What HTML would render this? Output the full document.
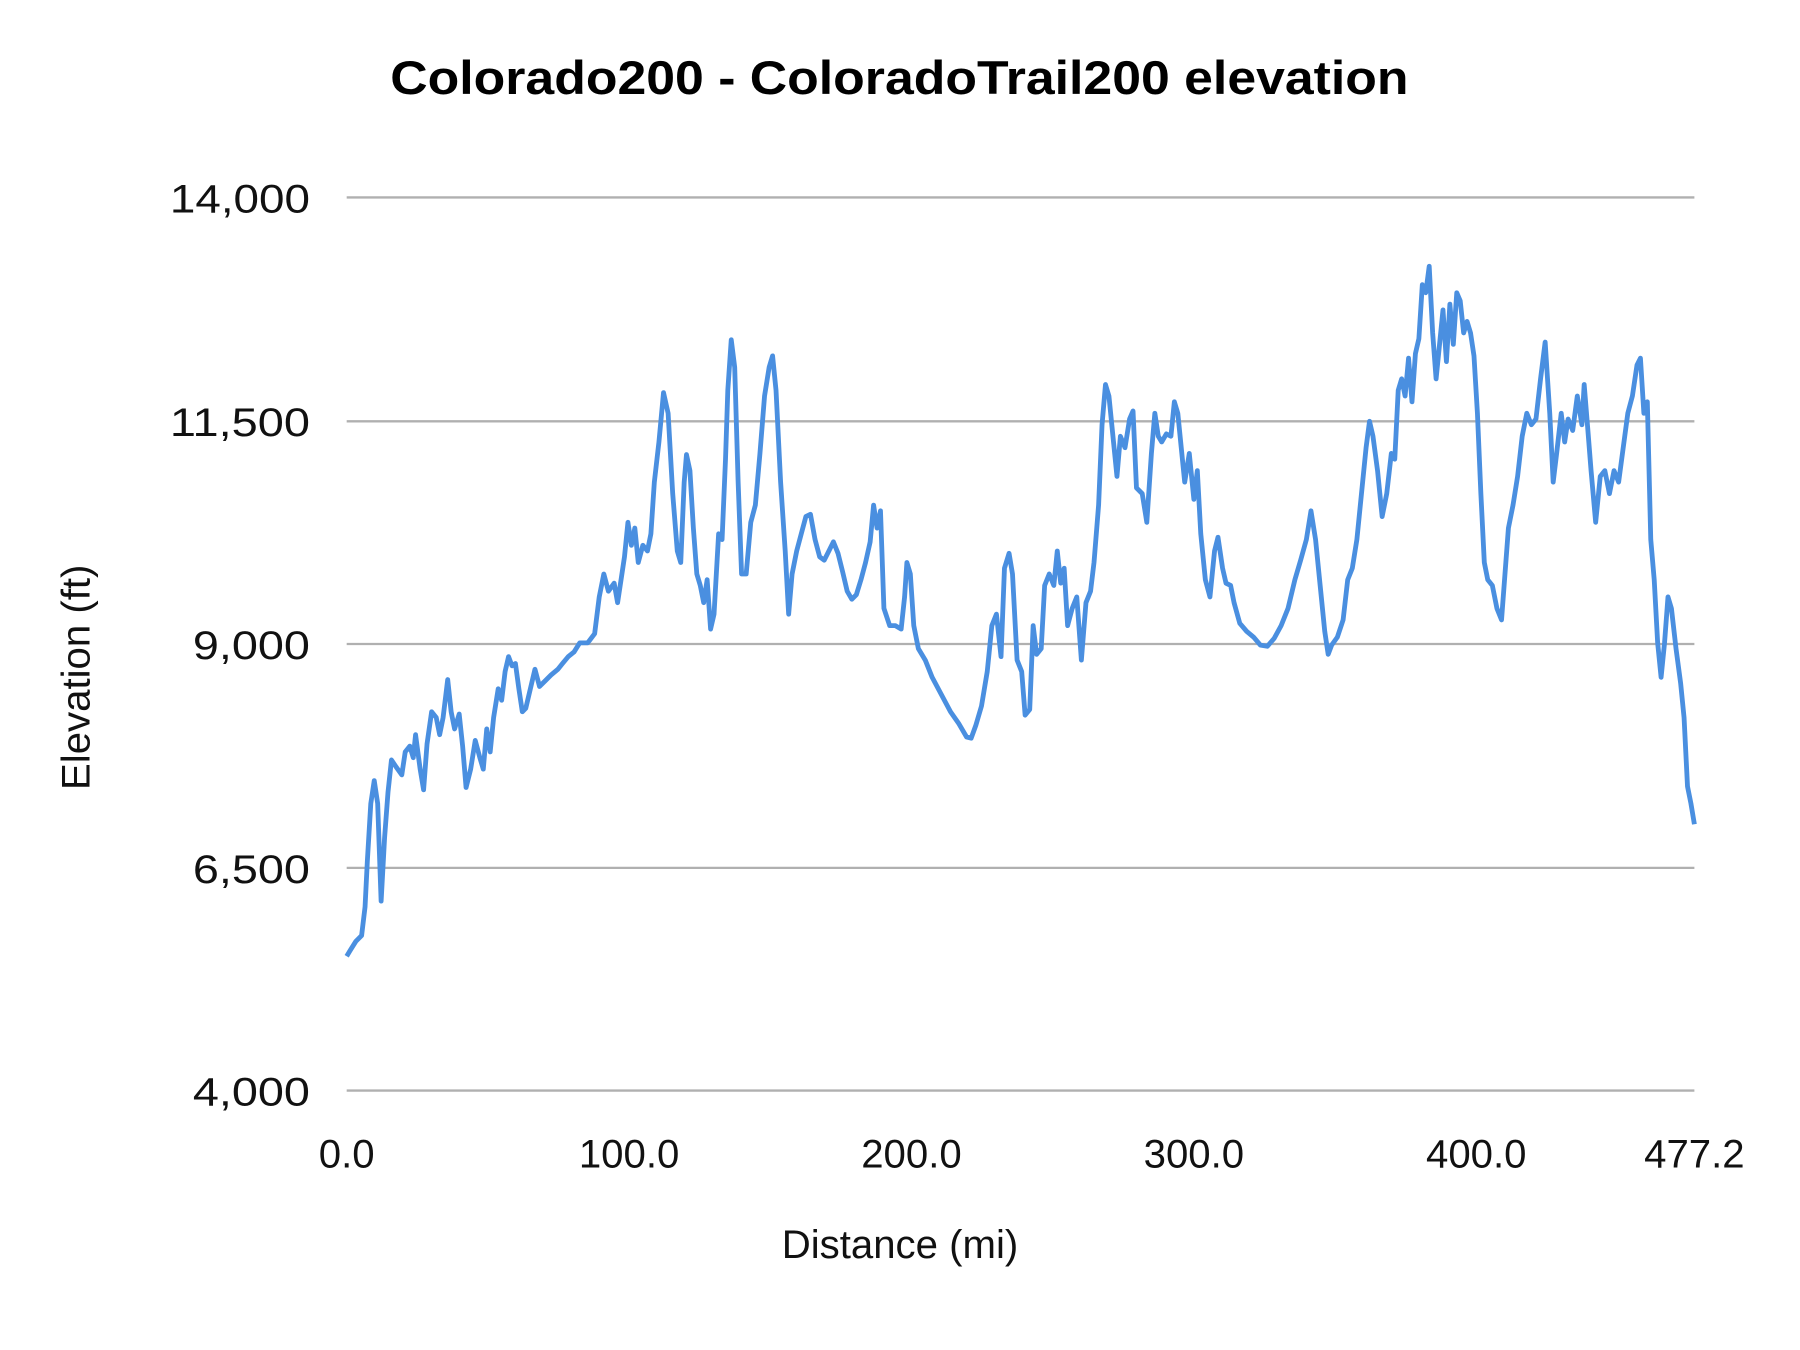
<!DOCTYPE html>
<html><head><meta charset="utf-8"><style>html,body{margin:0;padding:0;background:#fff}svg{display:block}</style></head>
<body>
<svg width="1800" height="1350" viewBox="0 0 1568 1176" xmlns="http://www.w3.org/2000/svg" font-family="'Liberation Sans', sans-serif">
<rect width="1568" height="1176" fill="#fff"/>
<text x="340" y="82" font-size="41" font-weight="bold" fill="#000" textLength="887" lengthAdjust="spacingAndGlyphs">Colorado200 - ColoradoTrail200 elevation</text>
<g stroke="#b0b0b0" stroke-width="2">
<line x1="302" y1="172" x2="1476" y2="172"/>
<line x1="302" y1="367" x2="1476" y2="367"/>
<line x1="302" y1="561" x2="1476" y2="561"/>
<line x1="302" y1="756" x2="1476" y2="756"/>
<line x1="302" y1="950" x2="1476" y2="950"/>
</g>
<g font-size="35" fill="#111">
<text x="148" y="185" textLength="122" lengthAdjust="spacingAndGlyphs">14,000</text>
<text x="148" y="380" textLength="122" lengthAdjust="spacingAndGlyphs">11,500</text>
<text x="168" y="574" textLength="102" lengthAdjust="spacingAndGlyphs">9,000</text>
<text x="168" y="769" textLength="102" lengthAdjust="spacingAndGlyphs">6,500</text>
<text x="168" y="963" textLength="102" lengthAdjust="spacingAndGlyphs">4,000</text>
</g>
<g font-size="35" fill="#111" text-anchor="middle">
<text x="302" y="1017">0.0</text>
<text x="548" y="1017">100.0</text>
<text x="794" y="1017">200.0</text>
<text x="1040" y="1017">300.0</text>
<text x="1286" y="1017">400.0</text>
<text x="1476" y="1017">477.2</text>
</g>
<text x="784" y="1096" text-anchor="middle" font-size="35" fill="#111">Distance (mi)</text>
<text transform="translate(78,590) rotate(-90)" text-anchor="middle" font-size="35" fill="#111">Elevation (ft)</text>
<polyline fill="none" stroke="#4a8fe0" stroke-width="4.2" stroke-linejoin="round" points="302,833 305,828 310,820 315,815 318,790 320,750 323,700 326,680 329,700 332,785 335,730 338,690 341,662 345,668 350,675 353,655 357,650 360,660 362,640 366,670 369,688 372,648 376,620 380,625 383,640 386,625 390,592 393,620 396,635 400,622 403,650 406,686 410,670 414,645 418,660 421,670 424,635 427,655 430,625 434,600 437,610 440,585 443,572 446,580 449,578 452,600 455,620 458,617 462,600 466,583 470,598 475,593 480,588 486,583 490,578 495,572 500,568 505,560 512,560 518,552 522,520 526,500 530,515 535,508 538,525 541,505 544,485 547,455 550,475 553,460 556,490 560,475 564,480 567,465 570,420 574,385 578,342 582,360 586,430 590,480 593,490 596,420 598,396 601,410 604,460 607,500 610,510 613,525 616,505 619,548 622,535 626,465 629,470 632,400 634,340 637,296 640,320 643,420 646,500 650,500 654,455 658,440 662,395 666,345 670,320 673,310 676,340 680,420 684,480 687,535 690,500 694,480 698,465 702,450 706,448 710,470 714,485 718,488 722,480 726,472 730,482 734,498 738,515 742,522 746,518 750,505 754,490 758,472 761,440 764,460 767,445 770,530 775,545 780,545 785,548 788,520 790,490 793,500 796,545 800,565 806,575 812,590 820,605 828,620 835,630 842,642 846,643 850,632 855,615 860,585 864,545 868,535 872,572 875,495 879,482 882,500 886,575 890,585 893,623 897,618 900,545 903,570 907,565 910,510 914,500 918,510 921,480 924,508 927,495 930,545 934,530 938,520 942,575 946,525 950,515 953,490 957,440 960,370 963,335 966,345 970,385 973,415 976,380 980,390 984,365 987,358 990,425 995,430 999,455 1003,395 1006,360 1009,380 1012,385 1016,378 1020,380 1023,350 1026,360 1029,390 1032,420 1036,395 1040,435 1043,410 1046,465 1050,505 1054,520 1058,480 1061,468 1065,495 1068,508 1072,510 1075,525 1080,543 1086,550 1092,555 1098,562 1104,563 1110,556 1116,545 1122,530 1128,505 1133,488 1138,470 1142,445 1146,470 1150,510 1154,550 1157,570 1160,562 1165,555 1170,540 1174,505 1178,495 1182,470 1186,430 1190,390 1193,367 1196,380 1200,410 1204,450 1208,430 1212,395 1215,400 1218,340 1221,330 1224,345 1227,312 1230,350 1233,308 1236,295 1239,248 1242,255 1245,232 1248,290 1251,330 1254,300 1257,270 1260,315 1263,265 1266,300 1269,255 1272,262 1275,290 1278,280 1281,290 1284,310 1287,360 1290,430 1293,490 1296,505 1300,510 1304,530 1308,540 1311,500 1314,460 1318,440 1322,415 1326,380 1330,360 1334,370 1338,365 1342,330 1346,298 1350,360 1353,420 1356,395 1360,360 1363,385 1366,365 1370,375 1374,345 1378,370 1380,335 1383,372 1386,410 1390,455 1394,415 1398,410 1402,430 1406,410 1410,420 1414,390 1418,360 1422,345 1426,318 1429,312 1432,360 1435,350 1438,470 1441,505 1444,560 1447,590 1450,560 1453,520 1456,530 1460,565 1464,595 1467,625 1470,685 1473,700 1476,718"/>
</svg>
</body></html>
